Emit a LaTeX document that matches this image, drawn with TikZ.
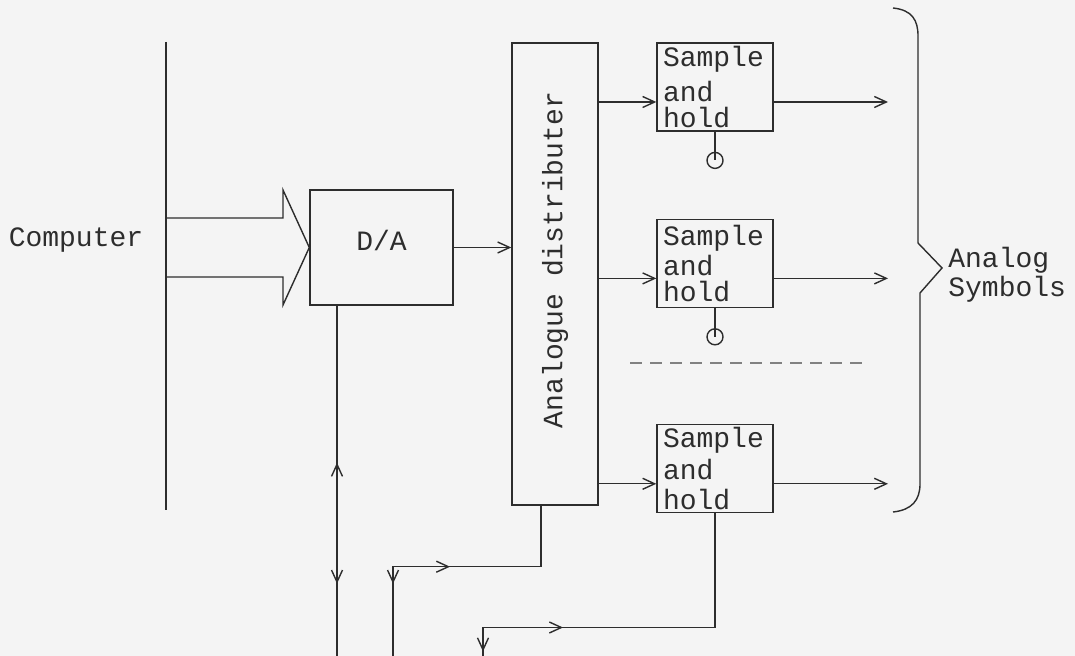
\documentclass[tikz,border=0pt]{standalone}
\usepackage{fontspec}
\setmonofont{Liberation Mono}
\usepackage{tikz}
\usetikzlibrary{arrows.meta,positioning,calc,decorations.markings}
\definecolor{inkgray}{RGB}{45,45,45}
\definecolor{papergray}{RGB}{244,244,244}

\begin{document}
\begin{tikzpicture}[
  x=0.5pt,y=-0.5pt,
  line width=0.7pt,
  every node/.style={font=\ttfamily\fontsize{14}{11.5}\selectfont,text=inkgray},
  blk/.style={rectangle,draw=inkgray,inner sep=0pt,align=center},
  shbox/.style={rectangle,draw=inkgray,inner xsep=3pt,inner ysep=0pt,
    text width=52pt,align=left,minimum height=44pt},
  hold/.style={circle,draw=inkgray,inner sep=0pt,minimum size=8pt},
  arr/.style={-{Straight Barb[length=6pt,width=5.5pt]},draw=inkgray},
  wire/.style={draw=inkgray},
  fwd/.style={postaction={decorate,decoration={markings,
    mark=at position #1 with {\arrow{Straight Barb[length=6pt,width=5.5pt]}}}}},
  bwd/.style={postaction={decorate,decoration={markings,
    mark=at position #1 with {\arrowreversed{Straight Barb[length=6pt,width=5.5pt]}}}}}
]
\useasboundingbox (0,0) rectangle (1075,656);
\fill[papergray] (0,0) rectangle (1075,656);

% blocks
\node (comp) at (76,240) {Computer};
\node[blk,minimum width=71.5pt,minimum height=57.5pt] (da) at (381.5,247.5) {D/A\\[-4.5pt]};
\node[blk,minimum width=43pt,minimum height=231pt] (dist) at (555,274)
  {\rotatebox{90}{\hspace{14pt}Analogue distributer}};
\node[shbox] (sh1) at (715,87) {Sample\\[3pt]and\\[1.5pt]hold};
\node[shbox,below=43.5pt of sh1] (sh2) {Sample\\[1pt]and\\[1.5pt]hold};
\node[shbox,below=58pt of sh2] (sh3) {Sample\\[2pt]and\\[3.5pt]hold};
\node[hold,below=10pt of sh1] (h1) {};
\node[hold,below=10pt of sh2] (h2) {};
\node[anchor=west,align=left] (sym) at (941,275) {Analog\\[0.5pt]Symbols};

% helper points
\coordinate (bustop) at (166,42);
\coordinate (busbot) at (166,510);
\coordinate (floor) at (0,656);
\coordinate (outx) at (888,0);
\coordinate (dabot) at ($(da.south)+(-44.5,0)$);
\coordinate (dstub) at ($(dist.south)+(-14,0)$);
\coordinate (foot2) at (393,656);
\coordinate (foot3) at (483,656);
\coordinate (dashl) at (630,363);
\coordinate (dashr) at (862,363);

% computer bus and wide arrow
\draw[wire] (bustop) -- (busbot);
\draw[wire] (166,218) -- (283,218) -- (283,190) -- (da.west)
  -- (283,305) -- (283,277) -- (166,277);

\draw[arr] (da.east) -- (da.east -| dist.west);
\foreach \i in {1,2,3} {
  \coordinate (in\i) at ($(sh\i.west)+(0,15)$);
  \draw[arr] (in\i -| dist.east) -- (in\i);
  \draw[arr] (in\i -| sh\i.east) -- (in\i -| outx);
}
\draw[wire] (sh1.south) -- (h1.center);
\draw[wire] (sh2.south) -- (h2.center);
\draw[wire,dashed,dash pattern=on 6pt off 4pt,draw=inkgray!60] (dashl) -- (dashr);

% lines to the bottom
\draw[wire,bwd=78.5pt,fwd=139pt] (dabot) -- (dabot |- floor);
\draw[wire,bwd=76pt,fwd=113pt] (dstub) -- ++(0,61) -| (foot2);
\draw[wire,bwd=133pt,fwd=185pt] (sh3.south) -- ++(0,114) -| (foot3);

% brace
\draw[wire] (893,8) .. controls (912,10) and (918,20) .. (918,36)
  -- (918,243) -- (942,268) -- (920,293) -- (920,484)
  .. controls (920,500) and (912,510) .. (893,512);
\end{tikzpicture}
\end{document}
